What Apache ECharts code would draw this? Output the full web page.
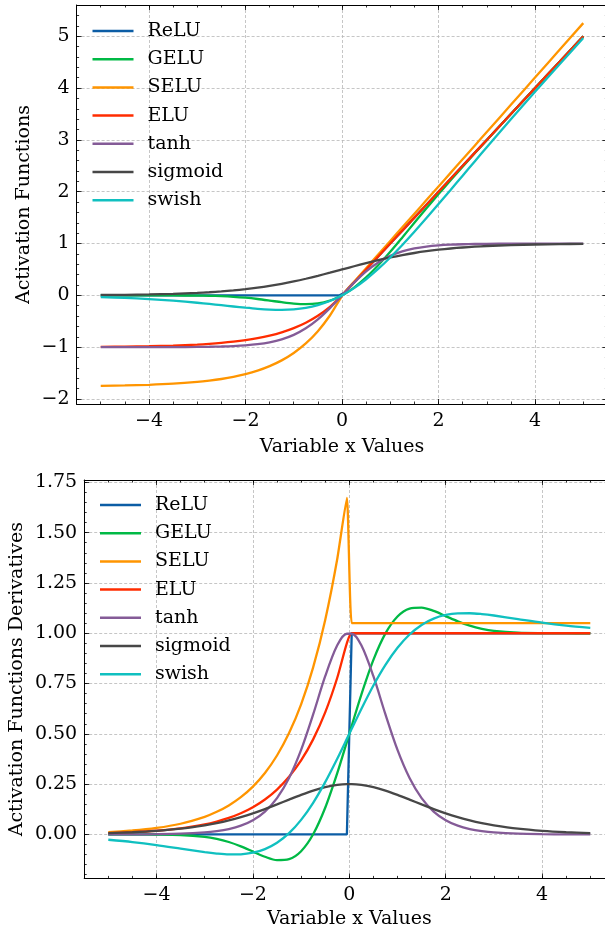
<!DOCTYPE html>
<html>
<head>
<meta charset="utf-8">
<script src="https://cdn.jsdelivr.net/npm/echarts@6/dist/echarts.min.js"></script>
<style>html,body{margin:0;padding:0;background:#fff}#c{width:605px;height:933px}</style>
</head>
<body>
<div id="c"></div>
<script>
// ---- data ----
const names = ['ReLU', 'GELU', 'SELU', 'ELU', 'tanh', 'sigmoid', 'swish'];
const colors = ['#0C5DA5', '#00B945', '#FF9500', '#FF2C00', '#845B97', '#474747', '#10C0C0'];
const xs = [-5, -4.5, -4, -3.5, -3, -2.75, -2.5, -2.25, -2, -1.75, -1.5, -1.25, -1, -0.75, -0.5, -0.25, -0.05,
            0.05, 0.25, 0.5, 0.75, 1, 1.25, 1.5, 1.75, 2, 2.25, 2.5, 2.75, 3, 3.5, 4, 4.5, 5];

// activation functions
const relu = [0,0,0,0,0,0,0,0,0,0,0,0,0,0,0,0,0,
  0.05,0.25,0.5,0.75,1,1.25,1.5,1.75,2,2.25,2.5,2.75,3,3.5,4,4.5,5];
const gelu = [-0.0000,-0.0000,-0.0001,-0.0008,-0.0041,-0.0082,-0.0155,-0.0275,-0.0455,-0.0701,-0.1002,-0.1321,-0.1587,-0.1700,-0.1543,-0.1003,-0.0240,
  0.0260,0.1497,0.3457,0.5800,0.8413,1.1179,1.3998,1.6799,1.9545,2.2225,2.4845,2.7418,2.9960,3.4992,3.9999,4.5000,5.0000];
const selu = [-1.7463,-1.7386,-1.7259,-1.7050,-1.6706,-1.6457,-1.6138,-1.5728,-1.5202,-1.4526,-1.3658,-1.2544,-1.1113,-0.9276,-0.6918,-0.3889,-0.0857,
  0.0525,0.2627,0.5254,0.7880,1.0507,1.3134,1.5761,1.8387,2.1014,2.3641,2.6268,2.8894,3.1521,3.6775,4.2028,4.7282,5.2535];
const elu = [-0.9933,-0.9889,-0.9817,-0.9698,-0.9502,-0.9361,-0.9179,-0.8946,-0.8647,-0.8262,-0.7769,-0.7135,-0.6321,-0.5276,-0.3935,-0.2212,-0.0488,
  0.05,0.25,0.5,0.75,1,1.25,1.5,1.75,2,2.25,2.5,2.75,3,3.5,4,4.5,5];
const tanh = [-0.9999,-0.9998,-0.9993,-0.9982,-0.9951,-0.9918,-0.9866,-0.9780,-0.9640,-0.9414,-0.9051,-0.8483,-0.7616,-0.6351,-0.4621,-0.2449,-0.0500,
  0.0500,0.2449,0.4621,0.6351,0.7616,0.8483,0.9051,0.9414,0.9640,0.9780,0.9866,0.9918,0.9951,0.9982,0.9993,0.9998,0.9999];
const sigmoid = [0.0067,0.0110,0.0180,0.0293,0.0474,0.0601,0.0759,0.0953,0.1192,0.1480,0.1824,0.2227,0.2689,0.3208,0.3775,0.4378,0.4875,
  0.5125,0.5622,0.6225,0.6792,0.7311,0.7773,0.8176,0.8520,0.8808,0.9047,0.9241,0.9399,0.9526,0.9707,0.9820,0.9890,0.9933];
const swish = [-0.0335,-0.0494,-0.0719,-0.1026,-0.1423,-0.1652,-0.1896,-0.2145,-0.2384,-0.2591,-0.2736,-0.2784,-0.2689,-0.2406,-0.1888,-0.1095,-0.0244,
  0.0256,0.1405,0.3112,0.5094,0.7311,0.9716,1.2264,1.4909,1.7616,2.0355,2.3104,2.5848,2.8577,3.3974,3.9281,4.4506,4.9665];

// derivatives
const dRelu = [0,0,0,0,0,0,0,0,0,0,0,0,0,0,0,0,0,
  1,1,1,1,1,1,1,1,1,1,1,1,1,1,1,1,1];
const dGelu = [-0.0000,-0.0001,-0.0005,-0.0028,-0.0119,-0.0220,-0.0376,-0.0592,-0.0852,-0.1109,-0.1275,-0.1227,-0.0833,0.0008,0.1325,0.3046,0.4601,
  0.5399,0.6954,0.8675,0.9992,1.0833,1.1227,1.1275,1.1109,1.0852,1.0592,1.0376,1.0220,1.0119,1.0028,1.0005,1.0001,1.0000];
const dSelu = [0.0118,0.0195,0.0322,0.0531,0.0875,0.1124,0.1443,0.1853,0.2379,0.3055,0.3923,0.5037,0.6468,0.8305,1.0663,1.3692,1.6724,
  1.0507,1.0507,1.0507,1.0507,1.0507,1.0507,1.0507,1.0507,1.0507,1.0507,1.0507,1.0507,1.0507,1.0507,1.0507,1.0507,1.0507];
const dElu = [0.0067,0.0111,0.0183,0.0302,0.0498,0.0639,0.0821,0.1054,0.1353,0.1738,0.2231,0.2865,0.3679,0.4724,0.6065,0.7788,0.9512,
  1,1,1,1,1,1,1,1,1,1,1,1,1,1,1,1,1];
const dTanh = [0.0002,0.0005,0.0013,0.0036,0.0099,0.0163,0.0266,0.0435,0.0707,0.1138,0.1807,0.2804,0.4200,0.5966,0.7864,0.9400,0.9975,
  0.9975,0.9400,0.7864,0.5966,0.4200,0.2804,0.1807,0.1138,0.0707,0.0435,0.0266,0.0163,0.0099,0.0036,0.0013,0.0005,0.0002];
const dSigmoid = [0.0066,0.0109,0.0177,0.0285,0.0452,0.0565,0.0701,0.0863,0.1050,0.1261,0.1491,0.1731,0.1966,0.2179,0.2350,0.2461,0.2498,
  0.2498,0.2461,0.2350,0.2179,0.1966,0.1731,0.1491,0.1261,0.1050,0.0863,0.0701,0.0565,0.0452,0.0285,0.0177,0.0109,0.0066];
const dSwish = [-0.0265,-0.0379,-0.0527,-0.0703,-0.0881,-0.0952,-0.0994,-0.0987,-0.0908,-0.0727,-0.0413,0.0063,0.0723,0.1574,0.2600,0.3763,0.4750,
  0.5250,0.6237,0.7400,0.8426,0.9277,0.9937,1.0413,1.0727,1.0908,1.0987,1.0994,1.0952,1.0881,1.0703,1.0527,1.0379,1.0265];

const funcs = [relu, gelu, selu, elu, tanh, sigmoid, swish];
const derivs = [dRelu, dGelu, dSelu, dElu, dTanh, dSigmoid, dSwish];
const smoothFunc = [0, 0.3, 0.3, 0.3, 0.3, 0.3, 0.3];
const smoothDeriv = [0, 0.3, 0.15, 0.25, 0.3, 0.3, 0.3];

// axis ranges / ticks
const xRange = [-5.5, 5.5];
const xMajor = 2, xMinor = 0.5;
const y1Range = [-2.0963, 5.6035];
const y1Major = 1, y1Minor = 0.2;
const y2Range = [-0.2185, 1.7616];
const y2Major = 0.25, y2Minor = 0.05;

// ---- styling / option building ----
const FONT = 'DejaVu Serif';
const FS = 19;
const minus = s => String(s).replace('-', '\u2212');
const fmtInt = v => minus(Math.round(v));
const fmt2 = v => minus((Math.abs(v) < 1e-9 ? 0 : v).toFixed(2));

function makeAxis(opts) {
  const { gridIndex, position, range, step, major, labels, formatter, name, nameGap, labelMargin } = opts;
  return {
    type: 'value', gridIndex, position,
    min: range[0], max: range[1],
    minInterval: step, maxInterval: step,
    splitNumber: Math.round((range[1] - range[0]) / step),
    axisLine: { show: major, onZero: false, lineStyle: { color: '#000', width: 1 } },
    axisTick: { show: true, inside: true, length: major ? 5 : 2.5, lineStyle: { color: '#000', width: 0.8 } },
    minorTick: { show: false },
    axisLabel: labels ? {
      show: true, showMinLabel: false, showMaxLabel: false, formatter,
      margin: labelMargin, fontFamily: FONT, fontSize: FS, color: '#000'
    } : { show: false },
    splitLine: labels ? { show: true, lineStyle: { color: '#b8b8b8', width: 0.8, type: [3, 2] } } : { show: false },
    name: name || '', nameLocation: 'middle', nameGap: nameGap || 0, nameMoveOverlap: false,
    nameTextStyle: { fontFamily: FONT, fontSize: FS, color: '#000' },
    z: 3
  };
}

function axesFor(gridIndex, dim, range, major, minor, formatter, name, nameGap, labelMargin) {
  const p1 = dim === 'x' ? 'bottom' : 'left';
  const p2 = dim === 'x' ? 'top' : 'right';
  return [
    makeAxis({ gridIndex, position: p1, range, step: major, major: true, labels: true, formatter, name, nameGap, labelMargin }),
    makeAxis({ gridIndex, position: p1, range, step: minor, major: false, labels: false }),
    makeAxis({ gridIndex, position: p2, range, step: major, major: true, labels: false }),
    makeAxis({ gridIndex, position: p2, range, step: minor, major: false, labels: false })
  ];
}

const xAxis = [
  ...axesFor(0, 'x', xRange, xMajor, xMinor, fmtInt, 'Variable x Values', 34, 8),
  ...axesFor(1, 'x', xRange, xMajor, xMinor, fmtInt, 'Variable x Values', 31, 7)
];
const yAxis = [
  ...axesFor(0, 'y', y1Range, y1Major, y1Minor, fmtInt, 'Activation Functions', 43, 7),
  ...axesFor(1, 'y', y2Range, y2Major, y2Minor, fmt2, 'Activation Functions Derivatives', 58, 7)
];

const series = [];
names.forEach((n, i) => {
  series.push({
    name: n, type: 'line', xAxisIndex: 0, yAxisIndex: 0,
    data: xs.map((x, k) => [x, funcs[i][k]]),
    showSymbol: false, symbol: 'none',
    smooth: smoothFunc[i] || false,
    lineStyle: { color: colors[i], width: 2.3 }, itemStyle: { color: colors[i] },
    z: 5
  });
});
names.forEach((n, i) => {
  series.push({
    name: n, type: 'line', xAxisIndex: 4, yAxisIndex: 4,
    data: xs.map((x, k) => [x, derivs[i][k]]),
    showSymbol: false, symbol: 'none',
    smooth: smoothDeriv[i] || false,
    lineStyle: { color: colors[i], width: 2.3 }, itemStyle: { color: colors[i] },
    z: 5
  });
});

const legendBase = {
  data: names, orient: 'vertical', icon: 'rect', itemWidth: 41, itemHeight: 2.5, itemGap: 8.2,
  padding: 0, selectedMode: false,
  textStyle: { fontFamily: FONT, fontSize: FS, color: '#000', lineHeight: 20, padding: [0, 0, 0, 9] }
};

const option = {
  animation: false,
  backgroundColor: '#fff',
  grid: [
    { left: 76.6, top: 5, width: 530.8, height: 399, containLabel: false, outerBoundsMode: 'none' },
    { left: 84.2, top: 480, width: 530.2, height: 398.4, containLabel: false, outerBoundsMode: 'none' }
  ],
  legend: [
    Object.assign({}, legendBase, { left: 92.5, top: 21 }),
    Object.assign({}, legendBase, { left: 100, top: 495 })
  ],
  xAxis, yAxis, series
};

const chart = echarts.init(document.getElementById('c'), null, { renderer: 'canvas' });
chart.setOption(option);
</script>
</body>
</html>
